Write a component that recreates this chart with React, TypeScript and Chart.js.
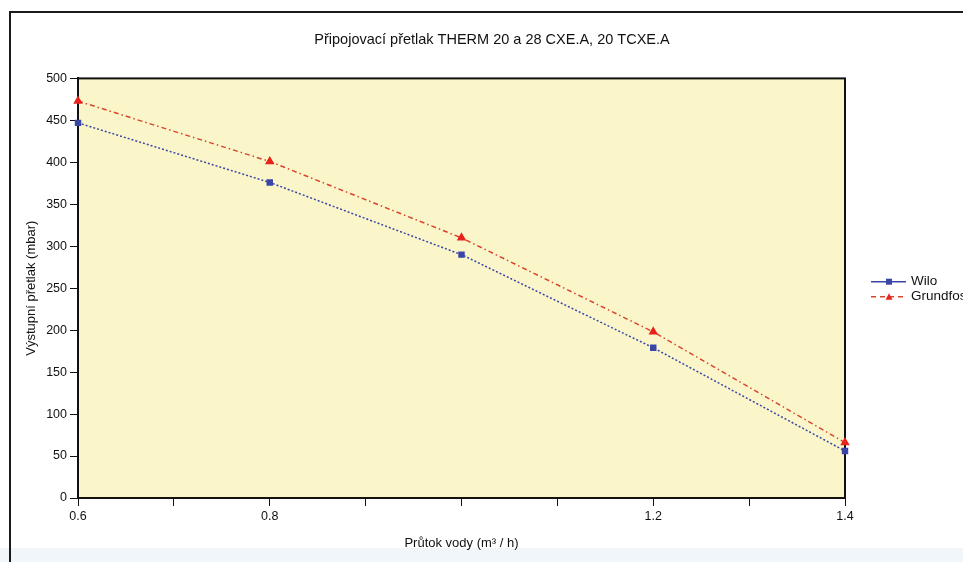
import React, { useEffect, useRef } from 'react';
import { Chart, registerables } from 'chart.js';

Chart.register(...registerables);

// ---- data ----
const flowRates = [0.6, 0.8, 1.0, 1.2, 1.4];
const wiloPressure = [447, 376, 290, 179, 56];
const grundfosPressure = [473, 401, 310, 198, 66];
const xLabelValues = [0.6, 0.8, 1.2, 1.4];
const seriesNames = ['Wilo', 'Grundfos'];
const chartTitle = 'Připojovací přetlak THERM 20 a 28 CXE.A, 20 TCXE.A';
const xTitle = 'Průtok vody (m³ / h)';
const yTitle = 'Výstupní přetlak (mbar)';

const FONT = "'Liberation Sans', Arial, sans-serif";
const CANVAS_W = 984;
const CANVAS_H = 562;

const plotFramePlugin = {
  id: 'plotFrame',
  beforeDraw(chart: any) {
    const { ctx, chartArea: a } = chart;
    ctx.save();
    ctx.fillStyle = '#fbf6ca';
    ctx.fillRect(a.left, a.top, a.right - a.left, a.bottom - a.top);
    ctx.restore();
  },
  beforeDatasetsDraw(chart: any) {
    const { ctx, chartArea: a } = chart;
    ctx.save();
    ctx.strokeStyle = '#111';
    ctx.lineWidth = 2;
    ctx.strokeRect(a.left, a.top, a.right - a.left, a.bottom - a.top);
    ctx.restore();
  },
};

const sideLegendPlugin = {
  id: 'sideLegend',
  afterDraw(chart: any) {
    const { ctx, chartArea: a } = chart;
    const x0 = a.right + 26;
    const yMid = (a.top + a.bottom) / 2;
    ctx.save();
    chart.data.datasets.forEach((ds: any, i: number) => {
      const y = yMid - 6.5 + i * 15;
      ctx.strokeStyle = ds.borderColor;
      ctx.lineWidth = 1.5;
      ctx.setLineDash(ds.legendDash || []);
      ctx.beginPath();
      ctx.moveTo(x0, y);
      ctx.lineTo(x0 + 35, y);
      ctx.stroke();
      ctx.setLineDash([]);
      ctx.fillStyle = ds.pointBackgroundColor;
      const mx = x0 + 18;
      if (ds.pointStyle === 'triangle') {
        ctx.beginPath();
        ctx.moveTo(mx, y - 3.5);
        ctx.lineTo(mx + 3.5, y + 3);
        ctx.lineTo(mx - 3.5, y + 3);
        ctx.closePath();
        ctx.fill();
      } else {
        ctx.fillRect(mx - 3, y - 3, 6, 6);
      }
      ctx.fillStyle = '#111';
      ctx.font = `13.5px ${FONT}`;
      ctx.textBaseline = 'middle';
      ctx.textAlign = 'left';
      ctx.fillText(ds.label, x0 + 40, y);
    });
    ctx.restore();
  },
};

export default function App() {
  const ref = useRef<HTMLCanvasElement | null>(null);

  useEffect(() => {
    if (!ref.current) return;
    const chart = new Chart(ref.current, {
      type: 'line',
      data: {
        datasets: [
          {
            label: seriesNames[0],
            data: flowRates.map((x, i) => ({ x, y: wiloPressure[i] })),
            borderColor: '#3a46a6',
            backgroundColor: '#3a46a6',
            pointBackgroundColor: '#3a46a6',
            pointBorderColor: '#3a46a6',
            borderWidth: 1.5,
            borderDash: [2, 2],
            legendDash: [],
            pointStyle: 'rect',
            pointRadius: 3.5,
            tension: 0,
            clip: false,
          },
          {
            label: seriesNames[1],
            data: flowRates.map((x, i) => ({ x, y: grundfosPressure[i] })),
            borderColor: '#d8452e',
            backgroundColor: '#e8231c',
            pointBackgroundColor: '#e8231c',
            pointBorderColor: '#e8231c',
            borderWidth: 1.5,
            borderDash: [5, 3, 1.5, 3],
            legendDash: [5, 4],
            pointStyle: 'triangle',
            pointRadius: 4,
            tension: 0,
            clip: false,
          },
        ],
      },
      options: {
        responsive: false,
        animation: false,
        devicePixelRatio: 1,
        layout: { padding: 0 },
        plugins: {
          legend: { display: false },
          tooltip: { enabled: false },
          title: {
            display: true,
            text: chartTitle,
            color: '#111',
            font: { family: FONT, size: 14.5, weight: 'normal' },
            padding: { top: 31, bottom: 30 },
          },
        },
        scales: {
          x: {
            type: 'linear',
            min: 0.6,
            max: 1.4,
            afterFit: (s: any) => { s.height = 64; },
            ticks: {
              stepSize: 0.1,
              color: '#111',
              font: { family: FONT, size: 12.5 },
              padding: 3,
              maxRotation: 0,
              autoSkip: false,
              callback: (v: any) => {
                const n = Math.round(Number(v) * 10) / 10;
                return xLabelValues.some((t) => Math.abs(t - n) < 1e-6) ? n.toFixed(1) : '';
              },
            },
            grid: { display: true, drawOnChartArea: false, drawTicks: true, tickLength: 8, color: '#111' },
            border: { display: true, color: '#111', width: 2 },
            title: {
              display: true,
              text: xTitle,
              color: '#111',
              font: { family: FONT, size: 13 },
              padding: { top: 0, bottom: 11 },
            },
          },
          y: {
            type: 'linear',
            min: 0,
            max: 500,
            afterFit: (s: any) => { s.width = 78; },
            ticks: {
              stepSize: 50,
              color: '#111',
              font: { family: FONT, size: 12.5 },
              padding: 3,
            },
            grid: { display: true, drawOnChartArea: false, drawTicks: true, tickLength: 8, color: '#111' },
            border: { display: true, color: '#111', width: 2 },
            title: {
              display: true,
              text: yTitle,
              color: '#111',
              font: { family: FONT, size: 13 },
              padding: { top: 24, bottom: 0 },
            },
          },
          legendSpace: {
            type: 'linear',
            position: 'right',
            display: true,
            afterFit: (s: any) => { s.width = CANVAS_W - 845; },
            ticks: { display: false },
            grid: { display: false },
            border: { display: false },
          },
        },
      },
      plugins: [plotFramePlugin, sideLegendPlugin],
    } as any);
    return () => chart.destroy();
  }, []);

  return (
    <div
      style={{
        position: 'fixed',
        left: 0,
        top: 0,
        width: 963,
        height: 562,
        overflow: 'hidden',
        background: '#ffffff',
      }}
    >
      <div style={{ position: 'absolute', left: 0, top: 548, width: 963, height: 14, background: '#f0f6fa' }} />
      <div
        style={{
          position: 'absolute',
          left: 9,
          top: 11,
          width: 1000,
          height: 700,
          borderLeft: '2px solid #1a1a1a',
          borderTop: '2px solid #1a1a1a',
        }}
      />
      <canvas
        ref={ref}
        width={CANVAS_W}
        height={CANVAS_H}
        style={{ position: 'absolute', left: 0, top: 0, width: CANVAS_W, height: CANVAS_H }}
      />
    </div>
  );
}
